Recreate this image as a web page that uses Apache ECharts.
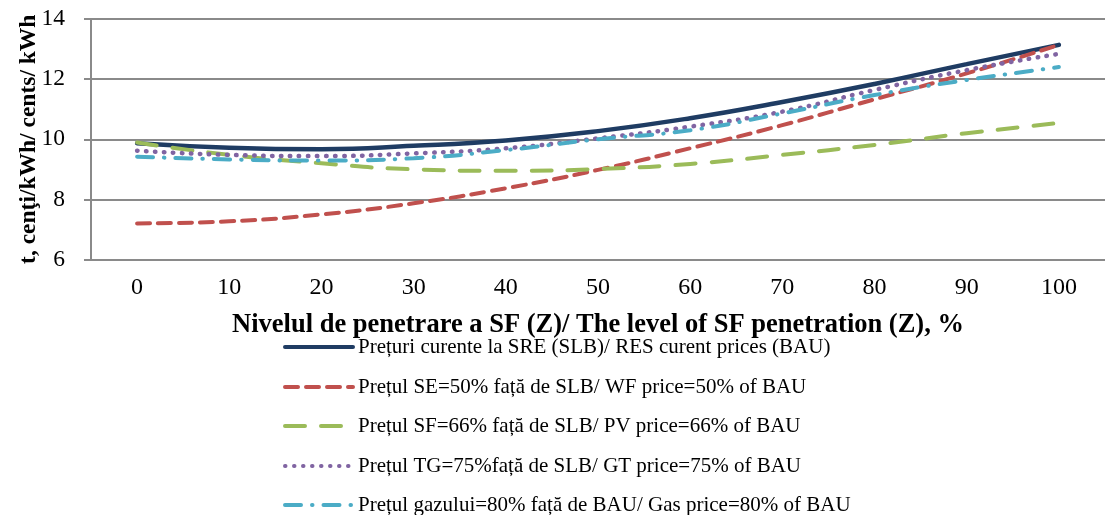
<!DOCTYPE html>
<html>
<head>
<meta charset="utf-8">
<script src="https://cdn.jsdelivr.net/npm/echarts@6/dist/echarts.min.js"></script>
<style>
  html, body { margin: 0; padding: 0; background: #fff; }
  #chart { width: 1105px; height: 515px; }
</style>
</head>
<body>
<div id="chart"></div>
<script>
const categories = ['0', '10', '20', '30', '40', '50', '60', '70', '80', '90', '100']
const yTicks = [6, 8, 10, 12, 14]

const bau = [9.87, 9.72, 9.67, 9.78, 9.96, 10.27, 10.7, 11.24, 11.84, 12.5, 13.14]
const wf50 = [7.2, 7.27, 7.5, 7.87, 8.37, 8.98, 9.7, 10.47, 11.33, 12.19, 13.14]
const pv66 = [9.89, 9.48, 9.2, 9.0, 8.95, 9.01, 9.18, 9.48, 9.81, 10.2, 10.54]
const gt75 = [9.62, 9.48, 9.44, 9.53, 9.7, 10.03, 10.42, 10.92, 11.64, 12.3, 12.84]
const gas80 = [9.42, 9.33, 9.29, 9.37, 9.64, 10.0, 10.3, 10.86, 11.47, 11.97, 12.4]

const names = [
  'Prețuri curente la SRE (SLB)/ RES curent prices (BAU)',
  'Prețul SE=50% față de SLB/ WF price=50% of BAU',
  'Prețul SF=66% față de SLB/ PV price=66% of BAU',
  'Prețul TG=75%față de SLB/ GT price=75% of BAU',
  'Prețul gazului=80% față de BAU/ Gas price=80% of BAU'
]

const serif = 'Liberation Serif, Times New Roman, serif'
const gridColor = '#8a8a8a'

function line (name, data, color, dash, width) {
  return {
    name: name,
    type: 'line',
    data: data,
    smooth: true,
    symbol: 'none',
    lineStyle: { color: color, width: width || 4, type: dash, cap: 'round' },
    itemStyle: { color: color }
  }
}

// one legend per row so the rows can sit at their own heights
const legendRows = [336, 376, 415, 455, 494]
const legends = names.map((n, i) => ({
  orient: 'vertical',
  left: 283,
  top: legendRows[i],
  padding: 0,
  itemWidth: 68,
  itemHeight: 14,
  itemStyle: { opacity: 0 },
  lineStyle: { width: 4 },
  textStyle: { fontFamily: serif, fontSize: 21, color: '#000', lineHeight: 22 },
  data: [n]
}))

const chart = echarts.init(document.getElementById('chart'))
chart.setOption({
  animation: false,
  textStyle: { fontFamily: serif },
  grid: { left: 91, top: 19, width: 1024, height: 240.5 },
  legend: legends,
  xAxis: {
    type: 'category',
    data: categories,
    boundaryGap: true,
    name: 'Nivelul de penetrare a SF (Z)/ The level of SF penetration (Z), %',
    nameLocation: 'middle',
    nameGap: 52,
    nameMoveOverlap: false,
    nameTextStyle: { fontFamily: serif, fontSize: 26.5, fontWeight: 'bold', color: '#000' },
    axisLine: { lineStyle: { color: gridColor, width: 2 } },
    axisTick: { length: 6, lineStyle: { color: gridColor, width: 2 } },
    axisLabel: { fontFamily: serif, fontSize: 24, color: '#000', margin: 16 },
    splitLine: { show: false }
  },
  yAxis: {
    type: 'value',
    min: yTicks[0],
    max: yTicks[yTicks.length - 1],
    interval: 2,
    name: 't, cenţi/kWh/ cents/ kWh',
    nameLocation: 'middle',
    nameGap: 50,
    nameMoveOverlap: false,
    nameTextStyle: { fontFamily: serif, fontSize: 23.5, fontWeight: 'bold', color: '#000' },
    axisLine: { show: true, lineStyle: { color: gridColor, width: 2 } },
    axisTick: { show: true, length: 7, lineStyle: { color: gridColor, width: 2 } },
    axisLabel: { fontFamily: serif, fontSize: 23.5, color: '#000', margin: 26 },
    splitLine: { lineStyle: { color: gridColor, width: 2 } }
  },
  series: [
    line(names[0], bau, '#1F3C63', 'solid', 4.5),
    line(names[1], wf50, '#C0504D', [13, 8]),
    line(names[2], pv66, '#9BBB59', [20, 16]),
    line(names[3], gt75, '#8064A2', [0.5, 8.5], 4.5),
    line(names[4], gas80, '#4BACC6', [16, 11, 0.5, 11])
  ]
})
</script>
</body>
</html>
